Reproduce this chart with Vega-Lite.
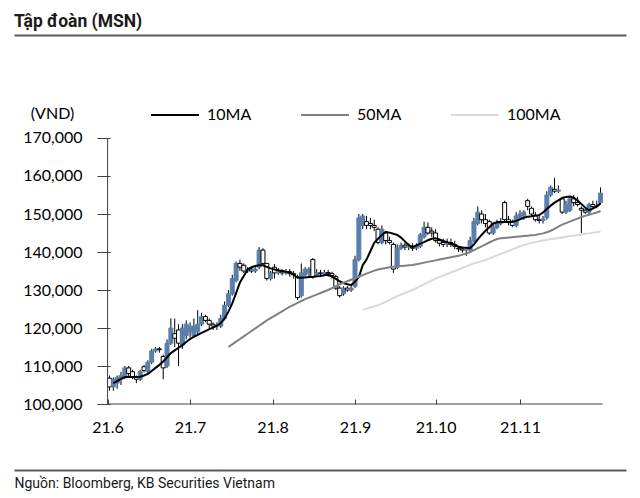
{
"$schema": "https://vega.github.io/schema/vega-lite/v6.json",
"width": 612, "height": 435,
"autosize": {"type": "none"},
"padding": {"left": 14, "top": 35, "right": 14, "bottom": 28},
"background": "white",
"title": {"text": "Tập đoàn (MSN)", "anchor": "start", "frame": "group", "font": "Roboto", "fontSize": 17.5, "fontWeight": "bold", "color": "#1a1a1a", "baseline": "bottom", "offset": 5, "dy": 26},
"config": {"view": {"stroke": null}},
"data": {"values": [
{"i":0,"o":106800,"h":107500,"l":103500,"c":104500,"10MA":null,"50MA":null,"100MA":null},
{"i":1,"o":104500,"h":107000,"l":103500,"c":106500,"10MA":105500,"50MA":null,"100MA":null},
{"i":2,"o":105500,"h":107500,"l":104000,"c":107000,"10MA":106000,"50MA":null,"100MA":null},
{"i":3,"o":106500,"h":108500,"l":105000,"c":107500,"10MA":106600,"50MA":null,"100MA":null},
{"i":4,"o":107000,"h":110000,"l":106500,"c":109500,"10MA":107100,"50MA":null,"100MA":null},
{"i":5,"o":109500,"h":110000,"l":107000,"c":108000,"10MA":107100,"50MA":null,"100MA":null},
{"i":6,"o":108500,"h":109000,"l":106500,"c":107000,"10MA":107100,"50MA":null,"100MA":null},
{"i":7,"o":107000,"h":107500,"l":105500,"c":106500,"10MA":107100,"50MA":null,"100MA":null},
{"i":8,"o":106500,"h":109000,"l":106000,"c":108500,"10MA":107200,"50MA":null,"100MA":null},
{"i":9,"o":109800,"h":110300,"l":108300,"c":108800,"10MA":107500,"50MA":null,"100MA":null},
{"i":10,"o":108500,"h":111500,"l":108000,"c":111000,"10MA":107900,"50MA":null,"100MA":null},
{"i":11,"o":111000,"h":114500,"l":110500,"c":114000,"10MA":108700,"50MA":null,"100MA":null},
{"i":12,"o":114000,"h":115000,"l":113500,"c":114500,"10MA":109500,"50MA":null,"100MA":null},
{"i":13,"o":114500,"h":115000,"l":113500,"c":114300,"10MA":110300,"50MA":null,"100MA":null},
{"i":14,"o":112500,"h":113000,"l":106500,"c":109500,"10MA":111200,"50MA":null,"100MA":null},
{"i":15,"o":110000,"h":117000,"l":109500,"c":116000,"10MA":112300,"50MA":null,"100MA":null},
{"i":16,"o":116000,"h":122500,"l":115500,"c":120000,"10MA":113400,"50MA":null,"100MA":null},
{"i":17,"o":118500,"h":122500,"l":115000,"c":117300,"10MA":114100,"50MA":null,"100MA":null},
{"i":18,"o":119500,"h":121000,"l":110000,"c":116000,"10MA":114800,"50MA":null,"100MA":null},
{"i":19,"o":115500,"h":121000,"l":114500,"c":120000,"10MA":115500,"50MA":null,"100MA":null},
{"i":20,"o":118000,"h":122000,"l":117000,"c":121000,"10MA":116300,"50MA":null,"100MA":null},
{"i":21,"o":119000,"h":121500,"l":117500,"c":120500,"10MA":117100,"50MA":null,"100MA":null},
{"i":22,"o":118000,"h":122500,"l":117500,"c":120500,"10MA":117700,"50MA":null,"100MA":null},
{"i":23,"o":119000,"h":124700,"l":118000,"c":121000,"10MA":118200,"50MA":null,"100MA":null},
{"i":24,"o":121000,"h":124000,"l":120500,"c":123000,"10MA":118700,"50MA":null,"100MA":null},
{"i":25,"o":123000,"h":123500,"l":121500,"c":122000,"10MA":119200,"50MA":null,"100MA":null},
{"i":26,"o":122000,"h":122500,"l":120000,"c":121000,"10MA":119700,"50MA":null,"100MA":null},
{"i":27,"o":121000,"h":121500,"l":119500,"c":120500,"10MA":120100,"50MA":null,"100MA":null},
{"i":28,"o":120500,"h":121500,"l":119500,"c":120800,"10MA":120600,"50MA":null,"100MA":null},
{"i":29,"o":120500,"h":123500,"l":120000,"c":122500,"10MA":121300,"50MA":null,"100MA":null},
{"i":30,"o":122500,"h":127000,"l":122000,"c":126000,"10MA":122500,"50MA":null,"100MA":null},
{"i":31,"o":126000,"h":130000,"l":125500,"c":129000,"10MA":124300,"50MA":115000,"100MA":null},
{"i":32,"o":129000,"h":134000,"l":128500,"c":133000,"10MA":126500,"50MA":115700,"100MA":null},
{"i":33,"o":132500,"h":137500,"l":132000,"c":137000,"10MA":129200,"50MA":116400,"100MA":null},
{"i":34,"o":137000,"h":138000,"l":135000,"c":136000,"10MA":132000,"50MA":117100,"100MA":null},
{"i":35,"o":136500,"h":137000,"l":134500,"c":135000,"10MA":133700,"50MA":117800,"100MA":null},
{"i":36,"o":135000,"h":136000,"l":134500,"c":135300,"10MA":135400,"50MA":118500,"100MA":null},
{"i":37,"o":135500,"h":136000,"l":134500,"c":135000,"10MA":136000,"50MA":119200,"100MA":null},
{"i":38,"o":135000,"h":136000,"l":134500,"c":135500,"10MA":136300,"50MA":119900,"100MA":null},
{"i":39,"o":136000,"h":141300,"l":135500,"c":140500,"10MA":136500,"50MA":120600,"100MA":null},
{"i":40,"o":140500,"h":141000,"l":136500,"c":137000,"10MA":136500,"50MA":121300,"100MA":null},
{"i":41,"o":137000,"h":137000,"l":132500,"c":133000,"10MA":136100,"50MA":122000,"100MA":null},
{"i":42,"o":133000,"h":135000,"l":132500,"c":134500,"10MA":135700,"50MA":122600,"100MA":null},
{"i":43,"o":136000,"h":136800,"l":133000,"c":134500,"10MA":135400,"50MA":123200,"100MA":null},
{"i":44,"o":134500,"h":135800,"l":134000,"c":135000,"10MA":135200,"50MA":123800,"100MA":null},
{"i":45,"o":135000,"h":135500,"l":133800,"c":134500,"10MA":135000,"50MA":124400,"100MA":null},
{"i":46,"o":134500,"h":135500,"l":134000,"c":134800,"10MA":134800,"50MA":125000,"100MA":null},
{"i":47,"o":134800,"h":135500,"l":133500,"c":134300,"10MA":134700,"50MA":125600,"100MA":null},
{"i":48,"o":134300,"h":135000,"l":133000,"c":134000,"10MA":134000,"50MA":126100,"100MA":null},
{"i":49,"o":133500,"h":134000,"l":127400,"c":128000,"10MA":133200,"50MA":126600,"100MA":null},
{"i":50,"o":128500,"h":137000,"l":128000,"c":134500,"10MA":133200,"50MA":127100,"100MA":null},
{"i":51,"o":134000,"h":136000,"l":133500,"c":135500,"10MA":133300,"50MA":127600,"100MA":null},
{"i":52,"o":134500,"h":136000,"l":133500,"c":135500,"10MA":133400,"50MA":128000,"100MA":null},
{"i":53,"o":138000,"h":138400,"l":133000,"c":133500,"10MA":133400,"50MA":128400,"100MA":null},
{"i":54,"o":134000,"h":135500,"l":133500,"c":134500,"10MA":133600,"50MA":128800,"100MA":null},
{"i":55,"o":134500,"h":135300,"l":133500,"c":134300,"10MA":133700,"50MA":129200,"100MA":null},
{"i":56,"o":134300,"h":135300,"l":133800,"c":134600,"10MA":133900,"50MA":129600,"100MA":null},
{"i":57,"o":134600,"h":135300,"l":133500,"c":134300,"10MA":134000,"50MA":130000,"100MA":null},
{"i":58,"o":134300,"h":134800,"l":133000,"c":133800,"10MA":133500,"50MA":130500,"100MA":null},
{"i":59,"o":133500,"h":134000,"l":130000,"c":130500,"10MA":132900,"50MA":131000,"100MA":null},
{"i":60,"o":130500,"h":131000,"l":128000,"c":128500,"10MA":132300,"50MA":131500,"100MA":null},
{"i":61,"o":129000,"h":131000,"l":128500,"c":130500,"10MA":131800,"50MA":131900,"100MA":null},
{"i":62,"o":130500,"h":131000,"l":129500,"c":130000,"10MA":131500,"50MA":132300,"100MA":null},
{"i":63,"o":130000,"h":131000,"l":129500,"c":130500,"10MA":131300,"50MA":132700,"100MA":null},
{"i":64,"o":131000,"h":139000,"l":130500,"c":138000,"10MA":132200,"50MA":133100,"100MA":null},
{"i":65,"o":138000,"h":150000,"l":137500,"c":149000,"10MA":133400,"50MA":133500,"100MA":null},
{"i":66,"o":147000,"h":150000,"l":146000,"c":149500,"10MA":136500,"50MA":133900,"100MA":124800},
{"i":67,"o":148000,"h":149500,"l":146000,"c":147000,"10MA":138000,"50MA":134300,"100MA":125100},
{"i":68,"o":147500,"h":149000,"l":146000,"c":147000,"10MA":140200,"50MA":134700,"100MA":125400},
{"i":69,"o":147000,"h":148500,"l":145500,"c":146500,"10MA":142400,"50MA":135100,"100MA":125700},
{"i":70,"o":146000,"h":146500,"l":142000,"c":142500,"10MA":143500,"50MA":135400,"100MA":126000},
{"i":71,"o":142500,"h":147000,"l":142000,"c":146000,"10MA":144500,"50MA":135600,"100MA":126400},
{"i":72,"o":145000,"h":145500,"l":142000,"c":143000,"10MA":145300,"50MA":135800,"100MA":126900},
{"i":73,"o":143000,"h":144000,"l":142000,"c":142500,"10MA":145100,"50MA":136000,"100MA":127400},
{"i":74,"o":142000,"h":142500,"l":134500,"c":135500,"10MA":144800,"50MA":136100,"100MA":127900},
{"i":75,"o":136000,"h":142000,"l":135500,"c":141000,"10MA":144500,"50MA":136200,"100MA":128400},
{"i":76,"o":141000,"h":142500,"l":140500,"c":141800,"10MA":143800,"50MA":136300,"100MA":128800},
{"i":77,"o":141800,"h":142500,"l":140500,"c":141300,"10MA":142800,"50MA":136400,"100MA":129200},
{"i":78,"o":141300,"h":142300,"l":140500,"c":141500,"10MA":141800,"50MA":136500,"100MA":129600},
{"i":79,"o":141500,"h":142300,"l":140300,"c":141000,"10MA":141300,"50MA":136600,"100MA":130000},
{"i":80,"o":141000,"h":142300,"l":140500,"c":141500,"10MA":141700,"50MA":136800,"100MA":130500},
{"i":81,"o":141500,"h":145000,"l":141000,"c":144500,"10MA":142200,"50MA":137000,"100MA":131000},
{"i":82,"o":144000,"h":148000,"l":143500,"c":146500,"10MA":142600,"50MA":137200,"100MA":131500},
{"i":83,"o":146500,"h":147800,"l":144500,"c":145000,"10MA":143100,"50MA":137400,"100MA":132000},
{"i":84,"o":145500,"h":146500,"l":144000,"c":145000,"10MA":143500,"50MA":137600,"100MA":132500},
{"i":85,"o":145000,"h":146000,"l":142500,"c":143000,"10MA":143600,"50MA":137800,"100MA":133000},
{"i":86,"o":143000,"h":143500,"l":141500,"c":142300,"10MA":143300,"50MA":138000,"100MA":133400},
{"i":87,"o":142500,"h":143500,"l":141300,"c":142000,"10MA":142900,"50MA":138200,"100MA":133800},
{"i":88,"o":142000,"h":143500,"l":141300,"c":142500,"10MA":142600,"50MA":138400,"100MA":134200},
{"i":89,"o":142500,"h":143500,"l":141300,"c":142000,"10MA":142300,"50MA":138600,"100MA":134600},
{"i":90,"o":142000,"h":143000,"l":140800,"c":141500,"10MA":141800,"50MA":138800,"100MA":135000},
{"i":91,"o":141000,"h":141500,"l":140000,"c":140800,"10MA":141400,"50MA":139000,"100MA":135400},
{"i":92,"o":140800,"h":141300,"l":139800,"c":140500,"10MA":141200,"50MA":139300,"100MA":135800},
{"i":93,"o":140500,"h":141300,"l":139000,"c":140700,"10MA":141100,"50MA":139600,"100MA":136200},
{"i":94,"o":140500,"h":144000,"l":139800,"c":143000,"10MA":141000,"50MA":140000,"100MA":136600},
{"i":95,"o":143000,"h":149000,"l":142500,"c":148000,"10MA":142000,"50MA":140500,"100MA":137000},
{"i":96,"o":147500,"h":152000,"l":147000,"c":150500,"10MA":143300,"50MA":141000,"100MA":137300},
{"i":97,"o":150000,"h":151000,"l":147500,"c":148500,"10MA":144500,"50MA":141500,"100MA":137600},
{"i":98,"o":148500,"h":150000,"l":146500,"c":147500,"10MA":145600,"50MA":142000,"100MA":137900},
{"i":99,"o":148000,"h":148500,"l":144500,"c":145000,"10MA":146500,"50MA":142500,"100MA":138300},
{"i":100,"o":145000,"h":147500,"l":144500,"c":146500,"10MA":147500,"50MA":143000,"100MA":138700},
{"i":101,"o":146500,"h":148500,"l":146000,"c":147500,"10MA":147800,"50MA":143400,"100MA":139100},
{"i":102,"o":147500,"h":149000,"l":147000,"c":148000,"10MA":147900,"50MA":143600,"100MA":139500},
{"i":103,"o":153000,"h":153500,"l":148000,"c":148500,"10MA":147900,"50MA":143700,"100MA":139900},
{"i":104,"o":148500,"h":149500,"l":147000,"c":148000,"10MA":147900,"50MA":143800,"100MA":140300},
{"i":105,"o":148000,"h":148500,"l":146500,"c":147000,"10MA":147900,"50MA":143900,"100MA":140700},
{"i":106,"o":147000,"h":150500,"l":146500,"c":149500,"10MA":148200,"50MA":144000,"100MA":141100},
{"i":107,"o":149000,"h":151000,"l":148500,"c":150000,"10MA":148600,"50MA":144100,"100MA":141500},
{"i":108,"o":149500,"h":151000,"l":148500,"c":150500,"10MA":149000,"50MA":144200,"100MA":141800},
{"i":109,"o":153500,"h":154000,"l":151000,"c":152000,"10MA":149300,"50MA":144300,"100MA":142100},
{"i":110,"o":151500,"h":152000,"l":149500,"c":150000,"10MA":149400,"50MA":144400,"100MA":142400},
{"i":111,"o":149500,"h":150500,"l":148000,"c":148500,"10MA":149600,"50MA":144500,"100MA":142600},
{"i":112,"o":148500,"h":149500,"l":147500,"c":148300,"10MA":149700,"50MA":144700,"100MA":142800},
{"i":113,"o":148300,"h":149500,"l":147500,"c":148700,"10MA":150400,"50MA":144900,"100MA":143000},
{"i":114,"o":149000,"h":156000,"l":148500,"c":155000,"10MA":151300,"50MA":145200,"100MA":143200},
{"i":115,"o":155000,"h":157500,"l":154500,"c":157000,"10MA":152200,"50MA":145600,"100MA":143400},
{"i":116,"o":156500,"h":159500,"l":155500,"c":156000,"10MA":153000,"50MA":146100,"100MA":143500},
{"i":117,"o":156000,"h":157500,"l":155500,"c":156300,"10MA":153600,"50MA":146700,"100MA":143700},
{"i":118,"o":154000,"h":154500,"l":150000,"c":150500,"10MA":154200,"50MA":147200,"100MA":143800},
{"i":119,"o":150500,"h":153500,"l":150000,"c":152500,"10MA":154500,"50MA":147600,"100MA":144000},
{"i":120,"o":151000,"h":154500,"l":150500,"c":154000,"10MA":154600,"50MA":148000,"100MA":144200},
{"i":121,"o":154000,"h":155000,"l":152000,"c":153000,"10MA":154300,"50MA":148400,"100MA":144300},
{"i":122,"o":153000,"h":154500,"l":152000,"c":152500,"10MA":153600,"50MA":148800,"100MA":144500},
{"i":123,"o":151500,"h":152000,"l":145000,"c":151000,"10MA":152600,"50MA":149200,"100MA":144600},
{"i":124,"o":151000,"h":151500,"l":150000,"c":150500,"10MA":151700,"50MA":149500,"100MA":144800},
{"i":125,"o":150500,"h":153000,"l":150000,"c":152500,"10MA":151000,"50MA":149800,"100MA":144900},
{"i":126,"o":152500,"h":153500,"l":151500,"c":152000,"10MA":151400,"50MA":150100,"100MA":145100},
{"i":127,"o":152000,"h":153500,"l":151500,"c":152300,"10MA":152000,"50MA":150400,"100MA":145200},
{"i":128,"o":153000,"h":157000,"l":152500,"c":155500,"10MA":152800,"50MA":150800,"100MA":145400}
]},
"layer": [
{
 "mark": {"type": "rule", "color": "#000000", "strokeWidth": 1},
 "encoding": {
  "x": {"field": "i", "type": "quantitative", "scale": {"domain": [-23.59, 133.33], "nice": false, "zero": false},
   "axis": {"orient": "bottom", "offset": -71, "values": [-0.5, 21, 42.5, 64, 85, 107],
    "labelExpr": "datum.value < 10 ? '21.6' : datum.value < 30 ? '21.7' : datum.value < 50 ? '21.8' : datum.value < 70 ? '21.9' : datum.value < 95 ? '21.10' : '21.11'",
    "domain": false, "grid": false, "tickSize": 5, "tickColor": "#404040", "labelFont": "Lato", "labelFontSize": 16, "labelColor": "#000000", "labelPadding": 15, "labelFlush": false, "labelOverlap": false,
    "title": "Nguồn: Bloomberg, KB Securities Vietnam", "titleX": 0, "titleY": 84, "titleAlign": "left", "titleBaseline": "middle", "titleFont": "Roboto", "titleFontSize": 14, "titleFontWeight": "normal", "titleColor": "#1a1a1a"}},
  "y": {"field": "l", "type": "quantitative", "scale": {"domain": [82632, 197105], "nice": false, "zero": false},
   "axis": {"orient": "left", "offset": -96, "values": [82632, 100000, 110000, 120000, 130000, 140000, 150000, 160000, 170000, 197105],
    "domain": false, "grid": true, "gridColor": "#5a5a5a", "gridWidth": 2,
    "gridOpacity": {"condition": {"test": "datum.value < 99000 || datum.value > 171000", "value": 1}, "value": 0},
    "tickOpacity": {"condition": {"test": "datum.value < 99000 || datum.value > 171000", "value": 0}, "value": 1},
    "tickSize": 13, "tickColor": "#404040",
    "labelExpr": "datum.value < 99000 || datum.value > 171000 ? '' : format(datum.value, ',')",
    "labelFont": "Lato", "labelFontSize": 16, "labelColor": "#000000", "labelPadding": 15, "labelOverlap": false,
    "title": "(VND)", "titleAngle": 0, "titleX": -58, "titleY": 78, "titleAlign": "center", "titleBaseline": "middle", "titleFont": "Lato", "titleFontSize": 16, "titleFontWeight": "normal", "titleColor": "#000000"}},
  "y2": {"field": "h"}
 }
},
{
 "mark": {"type": "bar", "width": 4, "strokeWidth": 1},
 "encoding": {
  "x": {"field": "i", "type": "quantitative"},
  "y": {"field": "o", "type": "quantitative"},
  "y2": {"field": "c"},
  "fill": {"condition": {"test": "datum.c >= datum.o", "value": "#5a7fab"}, "value": "#ffffff"},
  "stroke": {"condition": {"test": "datum.c >= datum.o", "value": "#5a7fab"}, "value": "#000000"}
 }
},
{
 "transform": [{"fold": ["10MA", "50MA", "100MA"], "as": ["ma", "v"]}],
 "mark": {"type": "line", "strokeWidth": 2},
 "encoding": {
  "x": {"field": "i", "type": "quantitative"},
  "y": {"field": "v", "type": "quantitative"},
  "color": {"field": "ma", "type": "nominal",
   "scale": {"domain": ["10MA", "50MA", "100MA"], "range": ["#000000", "#808080", "#d9d9d9"]},
   "legend": {"orient": "none", "legendX": 136, "legendY": 70, "direction": "horizontal", "columns": 3, "gridAlign": "none", "columnPadding": 48,
    "symbolType": "stroke", "symbolSize": 2304, "symbolStrokeWidth": 2, "labelFont": "Lato", "labelFontSize": 16, "labelColor": "#000000", "labelOffset": 7, "title": null, "padding": 0, "clipHeight": 20}}
 }
},
{
 "data": {"values": [{"k": 1}]},
 "mark": {"type": "rule", "color": "#404040", "strokeWidth": 1},
 "encoding": {"x": {"datum": -0.5, "type": "quantitative"}, "y": {"datum": 100000, "type": "quantitative"}, "y2": {"datum": 170000}}
},
{
 "data": {"values": [{"k": 1}]},
 "mark": {"type": "rule", "color": "#404040", "strokeWidth": 1},
 "encoding": {"y": {"datum": 100000, "type": "quantitative"}, "x": {"datum": -0.5, "type": "quantitative"}, "x2": {"datum": 128.5}}
}
]
}
